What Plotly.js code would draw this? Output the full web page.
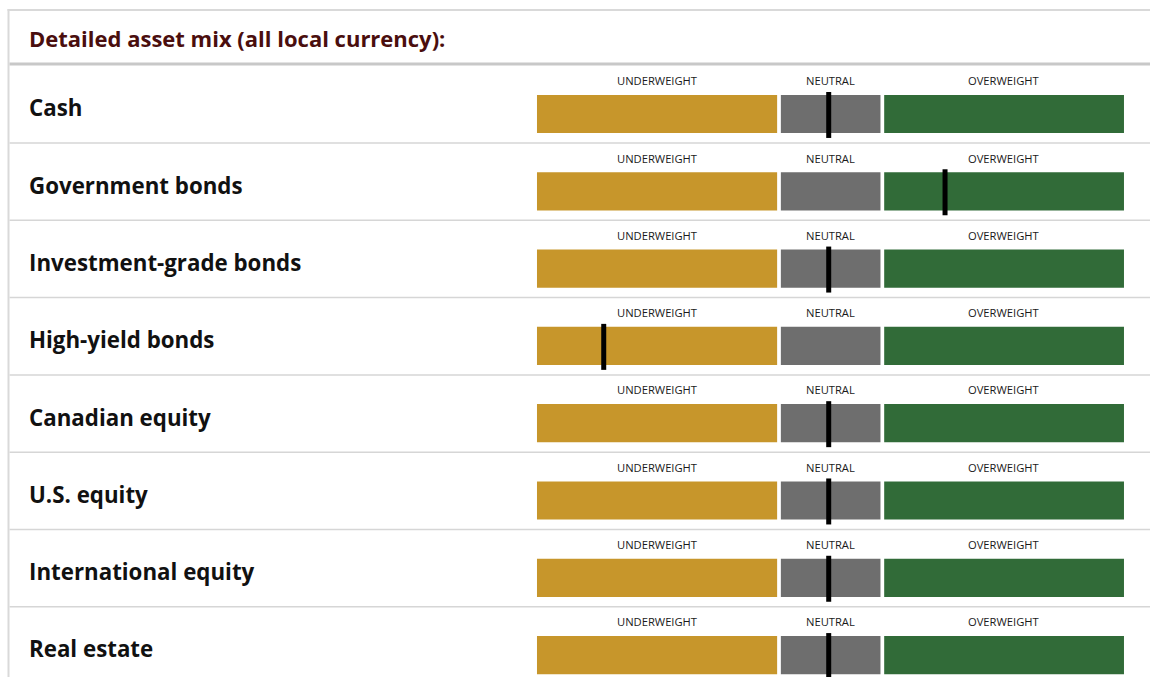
<!DOCTYPE html>
<html><head><meta charset="utf-8">
<script src="https://cdn.plot.ly/plotly-3.0.1.min.js"></script>
<style>html,body{margin:0;padding:0;background:#fff;overflow:hidden;} #chart{width:1150px;height:677px;}</style>
</head><body><div id="chart"></div>
<script>
// ---- data ----
const headerText = "Detailed asset mix (all local currency):";
const assetClasses = ["Cash", "Government bonds", "Investment-grade bonds", "High-yield bonds",
  "Canadian equity", "U.S. equity", "International equity", "Real estate"];
const zoneNames = ["UNDERWEIGHT", "NEUTRAL", "OVERWEIGHT"];
const zoneWidths = [41.3, 17.5, 41.2];          // share of the 0-100 scale per zone
const positioning = [49.7, 69.4, 49.7, 11.6, 49.7, 49.7, 49.7, 49.7]; // marker on 0-100 scale

// ---- styles ----
const zoneColors = ["#c7962b", "#6e6e6e", "#316b38"];
const rows = assetClasses.map((_, i) => i);

const traces = [];
let start = 0;
const zoneStarts = [];
zoneWidths.forEach((w, z) => {
  zoneStarts.push(start);
  traces.push({
    type: "bar", orientation: "h",
    y: rows, x: rows.map(() => w), base: rows.map(() => start),
    width: 0.54,
    marker: {color: zoneColors[z], line: {color: "#ffffff", width: 3.5}},
    hoverinfo: "skip", showlegend: false
  });
  start += w;
});

const mx = [], my = [];
positioning.forEach((v, i) => { mx.push(v, v, null); my.push(i - 0.285, i + 0.31, null); });
traces.push({type: "scatter", mode: "lines", x: mx, y: my,
  line: {color: "#000000", width: 5}, hoverinfo: "skip", showlegend: false});

const annotations = [];
annotations.push({text: headerText, xref: "paper", x: 27 / 1150, xanchor: "left",
  yref: "y", y: -0.985, showarrow: false,
  font: {family: "Open Sans", size: 22, color: "#4a0e0e", weight: 700}});
assetClasses.forEach((name, i) => {
  annotations.push({text: name, xref: "paper", x: 27 / 1150, xanchor: "left",
    yref: "y", y: i - 0.08, showarrow: false,
    font: {family: "Open Sans", size: 22.3, color: "#111111", weight: 700}});
  zoneNames.forEach((zn, z) => {
    annotations.push({text: zn, xref: "x", x: zoneStarts[z] + zoneWidths[z] / 2,
      yref: "y", y: i - 0.43, showarrow: false,
      font: {family: "Open Sans", size: 11.2, color: "#1a1a1a"}});
  });
});

const shapes = [];
const H = 677, W = 1150;
// frame
shapes.push({type: "line", xref: "paper", yref: "paper", x0: 8.5 / W, x1: 8.5 / W,
  y0: 1 - 9 / H, y1: 0, line: {color: "#d9d9d9", width: 2}, layer: "below"});
shapes.push({type: "line", xref: "paper", yref: "paper", x0: 7.5 / W, x1: 1,
  y0: 1 - 10 / H, y1: 1 - 10 / H, line: {color: "#d9d9d9", width: 2}, layer: "below"});
shapes.push({type: "line", xref: "paper", yref: "y", x0: 9.5 / W, x1: 1,
  y0: -0.647, y1: -0.647, line: {color: "#c8c8c8", width: 3}, layer: "below"});
for (let i = 0; i < assetClasses.length - 1; i++) {
  shapes.push({type: "line", xref: "paper", yref: "y", x0: 9.5 / W, x1: 1,
    y0: i + 0.375, y1: i + 0.375, line: {color: "#d6d6d6", width: 1.5}, layer: "below"});
}

const layout = {
  width: 1150, height: 677, autosize: false,
  margin: {l: 0, r: 0, t: 0, b: 0, pad: 0},
  paper_bgcolor: "#ffffff", plot_bgcolor: "#ffffff",
  barmode: "overlay", showlegend: false,
  xaxis: {range: [-90.64, 104.11], visible: false, fixedrange: true},
  yaxis: {range: [(677 - 114) / 77.3, -114 / 77.3], visible: false, fixedrange: true},
  annotations: annotations, shapes: shapes
};
Plotly.newPlot("chart", traces, layout, {displayModeBar: false, staticPlot: true});
</script>
</body></html>
